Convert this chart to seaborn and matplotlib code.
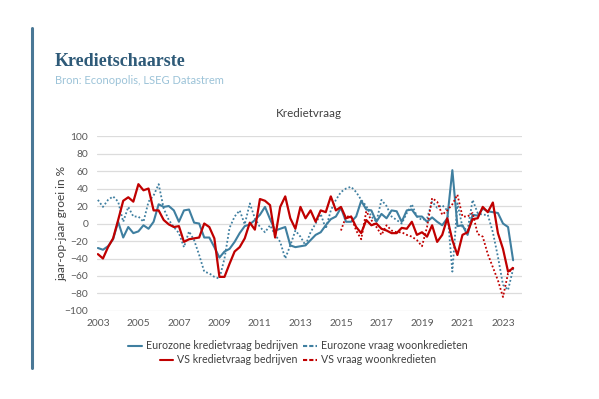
import numpy as np
import pandas as pd
import matplotlib
matplotlib.use("Agg")
import matplotlib.pyplot as plt
from matplotlib.lines import Line2D
import seaborn as sns

# ---- data (quarterly, 2003Q1 onwards) ----
eu_bedrijven = [-28, -30, -26, -18, 2, -16, -4, -11, -9, -2, -6, 2, 22, 19, 20, 15, 2, 15, 16, 1,
                0, -16, -16, -27, -39, -32, -29, -21, -11, -3, -1, 4, 10, 19, 5, -8, -6, -4, -25, -27,
                -26, -25, -19, -13, -10, -2, 5, 8, 18, 2, 2, 8, 26, 16, 15, 2, 11, 6, 15, 14,
                2, 15, 16, 8, 8, 2, 7, 2, -2, 6, 61, -3, -2, -13, 10, 9, 17, 14, 13, 12,
                0, -4, -42]
eu_woon = [27, 19, 27, 31, 25, 2, 19, 8, 8, 2, 25, 32, 45, 17, 4, -4, -11, -27, -9, -19,
           -36, -55, -57, -61, -63, -40, -5, 8, 15, -1, 23, 6, -4, -10, -2, -13, -21, -40, -25, -8,
           -15, -25, -10, 0, 11, -6, 15, 27, 36, 40, 42, 36, 27, 20, 8, 2, 27, 20, 8, 4,
           0, 12, 22, 8, 4, 6, 25, 18, 21, 15, -55, 23, -4, -8, 27, 12, 10, 10, -10, -38,
           -70, -76, -52]
vs_bedrijven = [-35, -40, -27, -17, 4, 26, 30, 25, 45, 38, 40, 15, 15, 4, -1, -4, -3, -21, -18, -17,
                -16, 0, -4, -17, -61, -61, -46, -32, -27, -17, 1, -7, 28, 26, 21, -16, 19, 31, 6, -6,
                19, 6, 15, 2, 15, 13, 31, 15, 19, 6, 8, -4, -11, 4, -2, 0, -6, -8, -11, -11,
                -5, -6, 2, -13, -10, -15, -2, -21, -13, 6, -19, -36, -13, -10, 5, 6, 19, 13, 24, -11,
                -29, -55, -51]
vs_woon = [np.nan] * 48 + [-8, 8, 8, -8, -18, 14, 4, -4, -13, -2, -8, -10,
                           -10, -13, -15, -19, -26, -4, 29, 25, 10, 15, 22, 33, 8, 8, 12, -12,
                           -15, -35, -50, -65, -84, -57, -50]

series_names = ["Eurozone kredietvraag bedrijven", "Eurozone vraag woonkredieten",
                "VS kredietvraag bedrijven", "VS vraag woonkredieten"]
year_ticks = list(range(2003, 2024, 2))
y_ticks = list(range(-100, 101, 20))

n = len(eu_bedrijven)
x = 2003 + np.arange(n) / 4.0
df = pd.concat([
    pd.DataFrame({"x": x, "v": vals, "reeks": name})
    for name, vals in zip(series_names, [eu_bedrijven, eu_woon, vs_bedrijven, vs_woon])
], ignore_index=True)

BLUE = "#3f7fa0"
RED = "#c00000"
palette = {series_names[0]: BLUE, series_names[1]: BLUE,
           series_names[2]: RED, series_names[3]: RED}
dashes = {series_names[0]: "", series_names[1]: (1, 1.2),
          series_names[2]: "", series_names[3]: (1, 1.2)}
widths = {series_names[0]: 1.5, series_names[1]: 1.3,
          series_names[2]: 1.6, series_names[3]: 1.3}

sns.set_theme(style="white")
plt.rcParams["font.family"] = ["Lato", "DejaVu Sans"]

fig = plt.figure(figsize=(5.99, 3.99), dpi=100)
ax = fig.add_axes([0.1614, 0.2206, 0.7101, 0.4384])

for name in series_names:
    sub = df[df["reeks"] == name]
    sns.lineplot(data=sub, x="x", y="v", ax=ax, color=palette[name],
                 lw=widths[name], dashes=False, legend=False)
    ln = ax.get_lines()[-1]
    if dashes[name]:
        ln.set_dashes(dashes[name])

ax.set_xlim(2002.94, 2023.94)
ax.set_ylim(-100, 100)
ax.set_yticks(y_ticks)
ax.set_xticks(year_ticks)
ax.set_xticklabels([str(t) for t in year_ticks])
ax.grid(axis="y", color="#dcdcdc", lw=0.9)
ax.grid(axis="x", visible=False)
ax.set_axisbelow(True)
for s in ax.spines.values():
    s.set_visible(False)
ax.tick_params(axis="both", length=0, labelsize=7.4, colors="#595959")
ax.tick_params(axis="y", pad=6)
ax.tick_params(axis="x", pad=6)
ax.set_xlabel("")
ax.set_ylabel("jaar-op-jaar groei in %", fontsize=8.6, color="#404040", labelpad=-2)
ax.set_title("Kredietvraag", fontsize=8.4, color="#404040", pad=14)

# legends (two centred rows)
def handle(color, dotted):
    return Line2D([], [], color=color, lw=1.5, ls=(0, (2, 1)) if dotted else "-")

leg1 = fig.legend([handle(BLUE, False), handle(BLUE, True)], series_names[:2],
                  loc="center", bbox_to_anchor=(0.497, 0.133), ncol=2, frameon=False,
                  fontsize=7.7, handlelength=1.3, handletextpad=0.35, columnspacing=0.5,
                  labelcolor="#404040")
leg2 = fig.legend([handle(RED, False), handle(RED, True)], series_names[2:],
                  loc="center", bbox_to_anchor=(0.497, 0.098), ncol=2, frameon=False,
                  fontsize=7.7, handlelength=1.3, handletextpad=0.35, columnspacing=0.5,
                  labelcolor="#404040")

# left accent bar
fig.add_artist(Line2D([31.5 / 599, 31.5 / 599], [1 - 28 / 399, 1 - 368 / 399],
                      color="#4a7896", lw=2.2, transform=fig.transFigure))

fig.text(55 / 599, 1 - 61 / 399, "Kredietschaarste", fontsize=13, fontweight="bold",
         color="#2e5a78", family=["Liberation Serif", "DejaVu Serif"], va="center", ha="left")
fig.text(55 / 599, 1 - 80 / 399, "Bron: Econopolis, LSEG Datastrem", fontsize=8,
         color="#9cc3d8", va="center", ha="left")

fig.savefig("out.png", dpi=100)
